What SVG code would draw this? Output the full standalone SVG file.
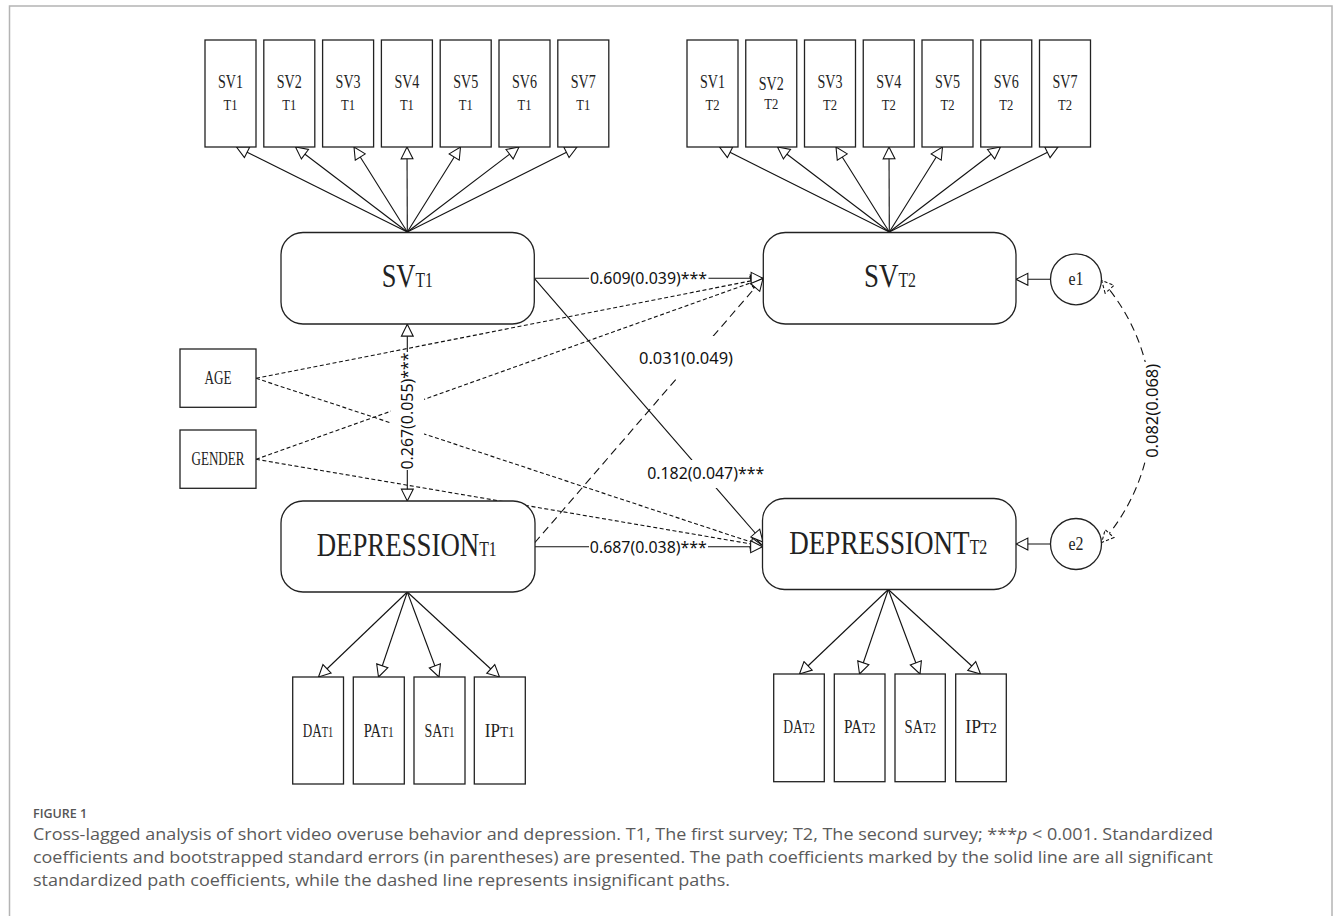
<svg xmlns="http://www.w3.org/2000/svg" width="1338" height="916" viewBox="0 0 1338 916">
<style>
.bx{fill:#fff;stroke:#222;stroke-width:1.3}
.ln{fill:none;stroke:#111;stroke-width:1.1}
.ds{fill:none;stroke:#111;stroke-width:1.1;stroke-dasharray:4,2.5}
.dl{fill:none;stroke:#111;stroke-width:1.1;stroke-dasharray:8,5}
.sf{font-family:"Liberation Serif","DejaVu Serif",serif;fill:#222}
.lb{font-family:"Noto Sans","Open Sans",sans-serif;font-size:16px;fill:#111}
.bg{fill:#fff}
.cap{font-family:"Open Sans","Noto Sans",sans-serif;font-size:15.5px;fill:#5a5a5a}
</style>
<defs>
<marker id="ah" markerUnits="userSpaceOnUse" markerWidth="14" markerHeight="14" viewBox="0 0 13 13" refX="12" refY="6.5" orient="auto-start-reverse">
<path d="M1,1 L12,6.5 L1,12 Z" fill="#fff" stroke="#111" stroke-width="1"/>
</marker>
<marker id="ahd" markerUnits="userSpaceOnUse" markerWidth="14" markerHeight="14" viewBox="0 0 13 13" refX="12" refY="6.5" orient="auto-start-reverse">
<path d="M1,1 L12,6.5 L1,12 Z" fill="#fff" stroke="#111" stroke-width="1" stroke-dasharray="3,2"/>
</marker>
</defs>
<rect x="0" y="0" width="1338" height="916" fill="#fff"/>
<rect x="9.5" y="6" width="1322.5" height="930" fill="none" stroke="#b4b4b4" stroke-width="1.5"/>

<g id="connectors">
<line class="ln" x1="407.3" y1="232" x2="236.5" y2="147" marker-end="url(#ah)"/>
<line class="ln" x1="407.3" y1="232" x2="295.5" y2="147" marker-end="url(#ah)"/>
<line class="ln" x1="407.3" y1="232" x2="354" y2="147" marker-end="url(#ah)"/>
<line class="ln" x1="407.3" y1="232" x2="407" y2="147" marker-end="url(#ah)"/>
<line class="ln" x1="407.3" y1="232" x2="460.5" y2="147" marker-end="url(#ah)"/>
<line class="ln" x1="407.3" y1="232" x2="519" y2="147" marker-end="url(#ah)"/>
<line class="ln" x1="407.3" y1="232" x2="577" y2="147" marker-end="url(#ah)"/>
<line class="ln" x1="889.3" y1="232" x2="719.5" y2="147" marker-end="url(#ah)"/>
<line class="ln" x1="889.3" y1="232" x2="777.5" y2="147" marker-end="url(#ah)"/>
<line class="ln" x1="889.3" y1="232" x2="836" y2="147" marker-end="url(#ah)"/>
<line class="ln" x1="889.3" y1="232" x2="889" y2="147" marker-end="url(#ah)"/>
<line class="ln" x1="889.3" y1="232" x2="942.5" y2="147" marker-end="url(#ah)"/>
<line class="ln" x1="889.3" y1="232" x2="1000.5" y2="147" marker-end="url(#ah)"/>
<line class="ln" x1="889.3" y1="232" x2="1058" y2="147" marker-end="url(#ah)"/>
<line class="ln" x1="407.3" y1="592" x2="318.5" y2="677" marker-end="url(#ah)"/>
<line class="ln" x1="407.3" y1="592" x2="378.5" y2="677" marker-end="url(#ah)"/>
<line class="ln" x1="407.3" y1="592" x2="439" y2="677" marker-end="url(#ah)"/>
<line class="ln" x1="407.3" y1="592" x2="499.5" y2="677" marker-end="url(#ah)"/>
<line class="ln" x1="888.3" y1="589.5" x2="799.5" y2="674" marker-end="url(#ah)"/>
<line class="ln" x1="888.3" y1="589.5" x2="859.5" y2="674" marker-end="url(#ah)"/>
<line class="ln" x1="888.3" y1="589.5" x2="920" y2="674" marker-end="url(#ah)"/>
<line class="ln" x1="888.3" y1="589.5" x2="980.5" y2="674" marker-end="url(#ah)"/>
<line class="ds" x1="256" y1="378.3" x2="763" y2="278.5" marker-end="url(#ah)"/>
<line class="ds" x1="256" y1="378.3" x2="763" y2="546" marker-end="url(#ah)"/>
<line class="ds" x1="256" y1="459.3" x2="763" y2="278.5" marker-end="url(#ah)"/>
<line class="ds" x1="256" y1="459.3" x2="763" y2="546" marker-end="url(#ah)"/>
<line class="ln" x1="534.3" y1="278.3" x2="763" y2="278.3" marker-end="url(#ah)"/>
<line class="ln" x1="534.3" y1="278.3" x2="763" y2="542" marker-end="url(#ah)"/>
<line class="ln" x1="534.8" y1="546.7" x2="762.5" y2="546.7" marker-end="url(#ah)"/>
<line class="dl" x1="534.5" y1="543" x2="763" y2="278.5" marker-end="url(#ah)"/>
<line class="ln" x1="407.3" y1="324.3" x2="407.3" y2="501" marker-start="url(#ah)" marker-end="url(#ah)"/>
<line class="ln" x1="1050.5" y1="279.3" x2="1016" y2="279.3" marker-end="url(#ah)"/>
<line class="ln" x1="1050.5" y1="544" x2="1016" y2="544" marker-end="url(#ah)"/>
<path class="dl" d="M1101.7,280.5 A197,197 0 0,1 1101.7,542.5" marker-start="url(#ahd)" marker-end="url(#ahd)"/>
</g>

<g id="labels">
<rect class="bg" x="589" y="268" width="119.5" height="21"/>
<text class="lb" x="648.5" y="284" text-anchor="middle" textLength="117" lengthAdjust="spacingAndGlyphs">0.609(0.039)***</text>
<rect class="bg" x="636" y="336" width="100" height="40"/>
<text class="lb" x="686" y="364" text-anchor="middle" textLength="94" lengthAdjust="spacingAndGlyphs">0.031(0.049)</text>
<rect class="bg" x="644" y="460" width="123" height="28"/>
<text class="lb" x="705.7" y="479.3" text-anchor="middle" textLength="117" lengthAdjust="spacingAndGlyphs">0.182(0.047)***</text>
<rect class="bg" x="589" y="537" width="119" height="20"/>
<text class="lb" x="648.3" y="552.5" text-anchor="middle" textLength="117" lengthAdjust="spacingAndGlyphs">0.687(0.038)***</text>
<rect class="bg" x="391" y="352" width="33" height="118"/>
<text class="lb" transform="translate(407.3,411) rotate(-90)" x="0" y="5.7" text-anchor="middle" textLength="117" lengthAdjust="spacingAndGlyphs">0.267(0.055)***</text>
<rect class="bg" x="1140" y="362" width="24" height="98"/>
<text class="lb" transform="translate(1152,410.8) rotate(-90)" x="0" y="5.7" text-anchor="middle" textLength="94" lengthAdjust="spacingAndGlyphs">0.082(0.068)</text>
</g>

<g id="sv1-t1"><rect class="bx" x="205" y="40" width="51" height="107"/><text class="sf" x="230.5" y="88" font-size="18" text-anchor="middle" textLength="25" lengthAdjust="spacingAndGlyphs">SV1</text><text class="sf" x="230.5" y="110" font-size="15" text-anchor="middle" textLength="14" lengthAdjust="spacingAndGlyphs">T1</text></g>
<g id="sv2-t1"><rect class="bx" x="263.8" y="40" width="51" height="107"/><text class="sf" x="289.3" y="88" font-size="18" text-anchor="middle" textLength="25" lengthAdjust="spacingAndGlyphs">SV2</text><text class="sf" x="289.3" y="110" font-size="15" text-anchor="middle" textLength="14" lengthAdjust="spacingAndGlyphs">T1</text></g>
<g id="sv3-t1"><rect class="bx" x="322.6" y="40" width="51" height="107"/><text class="sf" x="348.1" y="88" font-size="18" text-anchor="middle" textLength="25" lengthAdjust="spacingAndGlyphs">SV3</text><text class="sf" x="348.1" y="110" font-size="15" text-anchor="middle" textLength="14" lengthAdjust="spacingAndGlyphs">T1</text></g>
<g id="sv4-t1"><rect class="bx" x="381.4" y="40" width="51" height="107"/><text class="sf" x="406.9" y="88" font-size="18" text-anchor="middle" textLength="25" lengthAdjust="spacingAndGlyphs">SV4</text><text class="sf" x="406.9" y="110" font-size="15" text-anchor="middle" textLength="14" lengthAdjust="spacingAndGlyphs">T1</text></g>
<g id="sv5-t1"><rect class="bx" x="440.2" y="40" width="51" height="107"/><text class="sf" x="465.7" y="88" font-size="18" text-anchor="middle" textLength="25" lengthAdjust="spacingAndGlyphs">SV5</text><text class="sf" x="465.7" y="110" font-size="15" text-anchor="middle" textLength="14" lengthAdjust="spacingAndGlyphs">T1</text></g>
<g id="sv6-t1"><rect class="bx" x="499" y="40" width="51" height="107"/><text class="sf" x="524.5" y="88" font-size="18" text-anchor="middle" textLength="25" lengthAdjust="spacingAndGlyphs">SV6</text><text class="sf" x="524.5" y="110" font-size="15" text-anchor="middle" textLength="14" lengthAdjust="spacingAndGlyphs">T1</text></g>
<g id="sv7-t1"><rect class="bx" x="557.8" y="40" width="51" height="107"/><text class="sf" x="583.3" y="88" font-size="18" text-anchor="middle" textLength="25" lengthAdjust="spacingAndGlyphs">SV7</text><text class="sf" x="583.3" y="110" font-size="15" text-anchor="middle" textLength="14" lengthAdjust="spacingAndGlyphs">T1</text></g>

<g id="sv1-t2"><rect class="bx" x="687" y="40" width="51" height="107"/><text class="sf" x="712.5" y="88" font-size="18" text-anchor="middle" textLength="25" lengthAdjust="spacingAndGlyphs">SV1</text><text class="sf" x="712.5" y="110" font-size="15" text-anchor="middle" textLength="14" lengthAdjust="spacingAndGlyphs">T2</text></g>
<g id="sv2-t2"><rect class="bx" x="745.75" y="40" width="51" height="107"/><text class="sf" x="771.25" y="90" font-size="18" text-anchor="middle" textLength="25" lengthAdjust="spacingAndGlyphs">SV2</text><text class="sf" x="771.25" y="109" font-size="15" text-anchor="middle" textLength="14" lengthAdjust="spacingAndGlyphs">T2</text></g>
<g id="sv3-t2"><rect class="bx" x="804.5" y="40" width="51" height="107"/><text class="sf" x="830" y="88" font-size="18" text-anchor="middle" textLength="25" lengthAdjust="spacingAndGlyphs">SV3</text><text class="sf" x="830" y="110" font-size="15" text-anchor="middle" textLength="14" lengthAdjust="spacingAndGlyphs">T2</text></g>
<g id="sv4-t2"><rect class="bx" x="863.25" y="40" width="51" height="107"/><text class="sf" x="888.75" y="88" font-size="18" text-anchor="middle" textLength="25" lengthAdjust="spacingAndGlyphs">SV4</text><text class="sf" x="888.75" y="110" font-size="15" text-anchor="middle" textLength="14" lengthAdjust="spacingAndGlyphs">T2</text></g>
<g id="sv5-t2"><rect class="bx" x="922" y="40" width="51" height="107"/><text class="sf" x="947.5" y="88" font-size="18" text-anchor="middle" textLength="25" lengthAdjust="spacingAndGlyphs">SV5</text><text class="sf" x="947.5" y="110" font-size="15" text-anchor="middle" textLength="14" lengthAdjust="spacingAndGlyphs">T2</text></g>
<g id="sv6-t2"><rect class="bx" x="980.75" y="40" width="51" height="107"/><text class="sf" x="1006.25" y="88" font-size="18" text-anchor="middle" textLength="25" lengthAdjust="spacingAndGlyphs">SV6</text><text class="sf" x="1006.25" y="110" font-size="15" text-anchor="middle" textLength="14" lengthAdjust="spacingAndGlyphs">T2</text></g>
<g id="sv7-t2"><rect class="bx" x="1039.5" y="40" width="51" height="107"/><text class="sf" x="1065" y="88" font-size="18" text-anchor="middle" textLength="25" lengthAdjust="spacingAndGlyphs">SV7</text><text class="sf" x="1065" y="110" font-size="15" text-anchor="middle" textLength="14" lengthAdjust="spacingAndGlyphs">T2</text></g>

<g id="sv-t1"><rect class="bx" x="281" y="232.5" width="253.3" height="91.5" rx="22"/><text class="sf" x="381.7" y="287" font-size="34" textLength="51" lengthAdjust="spacingAndGlyphs">SV<tspan font-size="20">T1</tspan></text></g>
<g id="sv-t2"><rect class="bx" x="763.3" y="232.5" width="252.7" height="91.5" rx="22"/><text class="sf" x="864" y="287.3" font-size="34" textLength="52" lengthAdjust="spacingAndGlyphs">SV<tspan font-size="20">T2</tspan></text></g>
<g id="dep-t1"><rect class="bx" x="281" y="501" width="254" height="91" rx="22"/><text class="sf" x="316.7" y="556" font-size="34" textLength="180" lengthAdjust="spacingAndGlyphs">DEPRESSION<tspan font-size="20">T1</tspan></text></g>
<g id="dep-t2"><rect class="bx" x="762.5" y="498.5" width="253.5" height="91" rx="22"/><text class="sf" x="789.3" y="553.5" font-size="34" textLength="198" lengthAdjust="spacingAndGlyphs">DEPRESSIONT<tspan font-size="20">T2</tspan></text></g>

<g id="age"><rect class="bx" x="180" y="349" width="76" height="58.3"/><text class="sf" x="218" y="384" font-size="18" text-anchor="middle" textLength="27" lengthAdjust="spacingAndGlyphs">AGE</text></g>
<g id="gender"><rect class="bx" x="180" y="430" width="76" height="58.3"/><text class="sf" x="218" y="465" font-size="18" text-anchor="middle" textLength="53" lengthAdjust="spacingAndGlyphs">GENDER</text></g>

<g id="e1"><circle class="bx" cx="1076" cy="279.3" r="25.5"/><text class="sf" x="1076" y="284.5" font-size="18" text-anchor="middle" textLength="15" lengthAdjust="spacingAndGlyphs">e1</text></g>
<g id="e2"><circle class="bx" cx="1076" cy="544" r="25.5"/><text class="sf" x="1076" y="549.5" font-size="18" text-anchor="middle" textLength="15" lengthAdjust="spacingAndGlyphs">e2</text></g>

<g id="da-t1"><rect class="bx" x="292.7" y="677" width="50.8" height="107"/><text class="sf" x="318" y="737" font-size="19" text-anchor="middle" textLength="30.5" lengthAdjust="spacingAndGlyphs">DA<tspan font-size="15">T1</tspan></text></g>
<g id="pa-t1"><rect class="bx" x="353.3" y="677" width="51" height="107"/><text class="sf" x="378.8" y="737" font-size="19" text-anchor="middle" textLength="30" lengthAdjust="spacingAndGlyphs">PA<tspan font-size="15">T1</tspan></text></g>
<g id="sa-t1"><rect class="bx" x="414" y="677" width="51" height="107"/><text class="sf" x="439.5" y="737" font-size="19" text-anchor="middle" textLength="30" lengthAdjust="spacingAndGlyphs">SA<tspan font-size="15">T1</tspan></text></g>
<g id="ip-t1"><rect class="bx" x="474.3" y="677" width="51" height="107"/><text class="sf" x="499.8" y="737" font-size="19" text-anchor="middle" textLength="30" lengthAdjust="spacingAndGlyphs">IP<tspan font-size="15">T1</tspan></text></g>

<g id="da-t2"><rect class="bx" x="773.7" y="674" width="50.6" height="107.7"/><text class="sf" x="799" y="733" font-size="19" text-anchor="middle" textLength="31.5" lengthAdjust="spacingAndGlyphs">DA<tspan font-size="15">T2</tspan></text></g>
<g id="pa-t2"><rect class="bx" x="834.3" y="674" width="50.7" height="107.7"/><text class="sf" x="859.7" y="733" font-size="19" text-anchor="middle" textLength="31.5" lengthAdjust="spacingAndGlyphs">PA<tspan font-size="15">T2</tspan></text></g>
<g id="sa-t2"><rect class="bx" x="895" y="674" width="50.3" height="107.7"/><text class="sf" x="920.2" y="733" font-size="19" text-anchor="middle" textLength="31.5" lengthAdjust="spacingAndGlyphs">SA<tspan font-size="15">T2</tspan></text></g>
<g id="ip-t2"><rect class="bx" x="955.7" y="674" width="50.6" height="107.7"/><text class="sf" x="981" y="733" font-size="19" text-anchor="middle" textLength="31.5" lengthAdjust="spacingAndGlyphs">IP<tspan font-size="15">T2</tspan></text></g>

<g id="caption">
<text x="33" y="818" font-family="'Open Sans','Noto Sans',sans-serif" font-size="12.5" font-weight="600" fill="#555">FIGURE 1</text>
<text class="cap" x="33" y="840" textLength="1180" lengthAdjust="spacingAndGlyphs">Cross-lagged analysis of short video overuse behavior and depression. T1, The first survey; T2, The second survey; ***<tspan font-style="italic">p</tspan> &lt; 0.001. Standardized</text>
<text class="cap" x="33" y="863" textLength="1180" lengthAdjust="spacingAndGlyphs">coefficients and bootstrapped standard errors (in parentheses) are presented. The path coefficients marked by the solid line are all significant</text>
<text class="cap" x="33" y="886" textLength="697" lengthAdjust="spacingAndGlyphs">standardized path coefficients, while the dashed line represents insignificant paths.</text>
</g>
</svg>
